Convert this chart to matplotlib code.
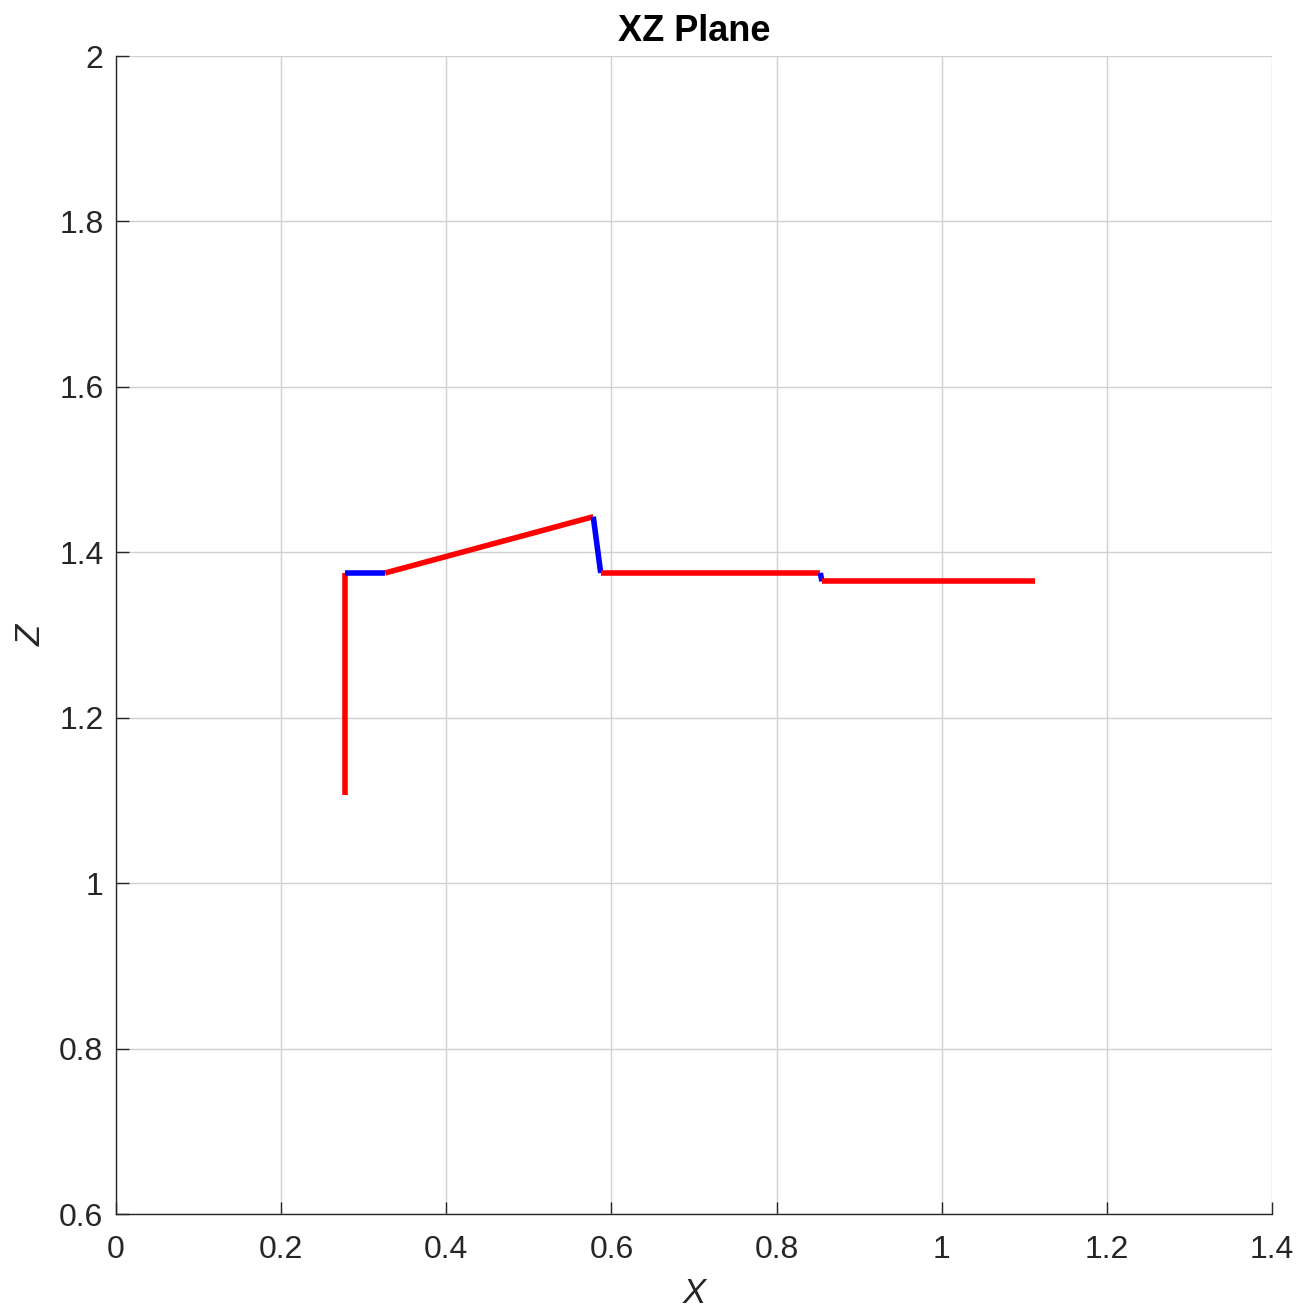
import matplotlib
matplotlib.use("Agg")
import matplotlib.pyplot as plt

plt.rcParams['font.family'] = ['Liberation Sans', 'DejaVu Sans']

# Path vertices (X, Z) and colours of the segments between them
path_x = [0.277, 0.277, 0.326, 0.578, 0.587, 0.853, 0.855, 1.113]
path_z = [1.107, 1.375, 1.375, 1.443, 1.375, 1.375, 1.365, 1.365]
seg_colors = ['red', 'blue', 'red', 'blue', 'red', 'blue', 'red']

xticks = [0, 0.2, 0.4, 0.6, 0.8, 1, 1.2, 1.4]
zticks = [0.6, 0.8, 1, 1.2, 1.4, 1.6, 1.8, 2]
xtick_labels = ['0', '0.2', '0.4', '0.6', '0.8', '1', '1.2', '1.4']
ztick_labels = ['0.6', '0.8', '1', '1.2', '1.4', '1.6', '1.8', '2']

fig = plt.figure(figsize=(12.99, 13.10), dpi=100)
ax = fig.add_axes([116/1299, 1 - 1214/1310, (1272-116)/1299, (1214-56)/1310])

for i, c in enumerate(seg_colors):
    ax.plot(path_x[i:i+2], path_z[i:i+2], color=c, linewidth=4.0,
            solid_capstyle='butt', zorder=3)

ax.set_xlim(0, 1.4)
ax.set_ylim(0.6, 2)
ax.set_xticks(xticks)
ax.set_xticklabels(xtick_labels)
ax.set_yticks(zticks)
ax.set_yticklabels(ztick_labels)

ax.grid(True, color='#d0d0d0', linewidth=1.0, zorder=0)
ax.set_axisbelow(True)
for s in ['top', 'right']:
    ax.spines[s].set_visible(False)
for s in ['left', 'bottom']:
    ax.spines[s].set_color('#262626')
    ax.spines[s].set_linewidth(1.0)

ax.tick_params(direction='in', length=9, width=1.0, colors='#262626',
               labelsize=23)
ax.tick_params(axis='x', pad=15)
ax.tick_params(axis='y', pad=9)

ax.set_title('XZ Plane', fontsize=26, fontweight='bold', pad=11)
ax.set_xlabel('X', fontsize=25, style='italic', color='#262626', labelpad=9)
ax.set_ylabel('Z', fontsize=25, style='italic', color='#262626', labelpad=8)

fig.savefig('out.png', dpi=100)
